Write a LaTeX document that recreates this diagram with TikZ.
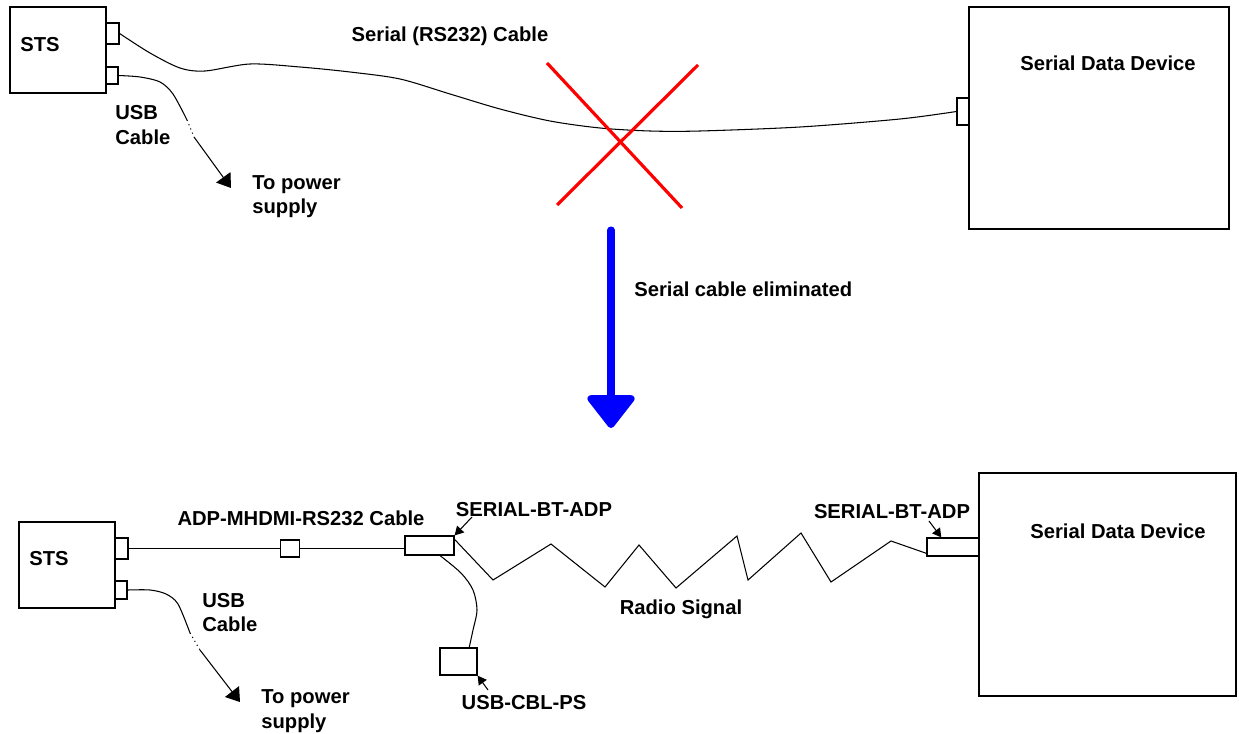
\documentclass[tikz,border=0pt]{standalone}
\usepackage{fontspec}
\setmainfont{Liberation Sans}
\usetikzlibrary{arrows.meta,calc}
\begin{document}
\begin{tikzpicture}[x=0.02cm,y=-0.02cm,
  rbox/.style n args={2}{draw, rectangle, line width=0.7pt, inner sep=0pt,
     minimum width=#1*0.02cm, minimum height=#2*0.02cm},
  lbl/.style={font=\fontsize{11.5}{13.9}\selectfont\bfseries, inner sep=0pt},
  cable/.style={line width=0.6pt},
  ptr/.style={line width=0.6pt, -{Triangle[length=7.5pt,width=10pt]}},
  sptr/.style={line width=0.6pt, -{Triangle[length=5pt,width=5.5pt]}},
  redx/.style={draw=red, line width=1.8pt},
  bigarrow/.style={draw=blue, line width=4pt, line cap=round,
     -{Triangle[length=20pt,width=30pt,round]}}]
\useasboundingbox (0,0) rectangle (1239,733);
\fill[white] (0,0) rectangle (1239,733);

% ---------------- top ----------------
\node[rbox={96}{86}] (sts1) at (58,50) {};
\node[lbl, anchor=west] (sts1t) at (20,45) {STS};
\node[rbox={13}{21}] (sp1) at (112.5,33.5) {};
\node[rbox={12}{17}] (up1) at (112,75.5) {};
\node[rbox={260}{222}] (sdd1) at (1099,118) {};
\node[lbl] (sdd1t) at (1108,63) {Serial Data Device};
\node[rbox={12}{27}] (rp1) at (963,111.5) {};

\draw[cable] plot[smooth] coordinates {(sp1.east) (150,53) (180,68) (205,71)
  (250,64) (300,67) (350,72) (400,79) (450,94) (500,109) (550,121) (600,128)
  (650,131) (700,131) (800,127) (900,119) (rp1.west)};
\node[lbl] (serlbl) at (450,36) {Serial (RS232) Cable};

\coordinate (x1a) at (547,63);  \coordinate (x1b) at (682,208);
\coordinate (x2a) at (698,65);  \coordinate (x2b) at (557,205);
\draw[redx] (x1a) -- (x1b);
\draw[redx] (x2a) -- (x2b);

\coordinate (u1a) at (187,120);
\coordinate (u1b) at (194,137);
\coordinate (ps1) at (231,188);
\draw[cable] plot[smooth] coordinates {(up1.east) (140,77) (160,82) (173,94) (u1a)};
\draw[cable, dotted] (u1a) -- (u1b);
\draw[ptr] (u1b) -- (ps1);
\node[lbl, anchor=west, align=left] (usb1t) at (115,125) {USB\\Cable};
\node[lbl, anchor=west, align=left] (pw1t) at (252,196.5) {To power\\supply};

% ---------------- middle ----------------
\coordinate (ba) at (611,230);
\coordinate (bb) at (611,428);
\draw[bigarrow] (ba) -- (bb);
\node[lbl, anchor=west] (elim) at (634,289) {Serial cable eliminated};

% ---------------- bottom ----------------
\node[rbox={96}{86}] (sts2) at (67,565) {};
\node[lbl, anchor=west] (sts2t) at (29,559) {STS};
\node[rbox={13}{21}] (sp2) at (121.5,548.5) {};
\node[rbox={12}{18}] (up2) at (121,590) {};
\node[rbox={19}{17}] (mid) at (290,548.5) {};
\node[rbox={49}{19}] (bt1) at (429.5,545.5) {};
\node[rbox={37}{27}] (psbox) at (458.5,661.5) {};
\node[rbox={257}{223}] (sdd2) at (1107.5,584.5) {};
\node[lbl] (sdd2t) at (1118,531) {Serial Data Device};
\node[rbox={52}{18}] (rp2) at (953,547) {};

\draw[cable] (sp2.east) -- (mid.west);
\draw[cable] (mid.east) -- (mid.east -| bt1.west);
\node[lbl] (adplbl) at (301,518) {ADP-MHDMI-RS232 Cable};

\draw[cable] plot[smooth] coordinates {($(bt1.south west)!0.71!(bt1.south east)$)
  (461,573) (473,590) (477,610) (473,630) ($(psbox.north west)!0.78!(psbox.north east)$)};

\draw[cable] ($(bt1.north east)!0.2!(bt1.south east)$) -- (493,580) -- (551,544)
  -- (605,587) -- (639,545) -- (676,588) -- (737,536) -- (748,580) -- (801,533)
  -- (831,582) -- (891,541) -- ($(rp2.north west)!0.83!(rp2.south west)$);
\node[lbl] (radio) at (681,609) {Radio Signal};

\node[lbl] (bt1t) at (534,510) {SERIAL-BT-ADP};
\coordinate (a1s) at (472,517);
\draw[sptr] (a1s) -- (bt1.north east);

\node[lbl] (bt2t) at (892,512) {SERIAL-BT-ADP};
\coordinate (a2s) at (929,521);
\draw[sptr] (a2s) -- ($(rp2.north west)!0.28!(rp2.north east)$);

\node[lbl] (pslbl) at (524,703) {USB-CBL-PS};
\coordinate (a3s) at (488,690);
\draw[sptr] (a3s) -- (psbox.south east);

\coordinate (u2a) at (190,633);
\coordinate (u2b) at (200,650);
\coordinate (ps2) at (240,702);
\draw[cable] plot[smooth] coordinates {(up2.east) (150,590) (166,594) (178,604) (u2a)};
\draw[cable, dotted] (u2a) -- (u2b);
\draw[ptr] (u2b) -- (ps2);
\node[lbl, anchor=west, align=left] (usb2t) at (202,612.5) {USB\\Cable};
\node[lbl, anchor=west, align=left] (pw2t) at (261,711) {To power\\supply};
\end{tikzpicture}
\end{document}
